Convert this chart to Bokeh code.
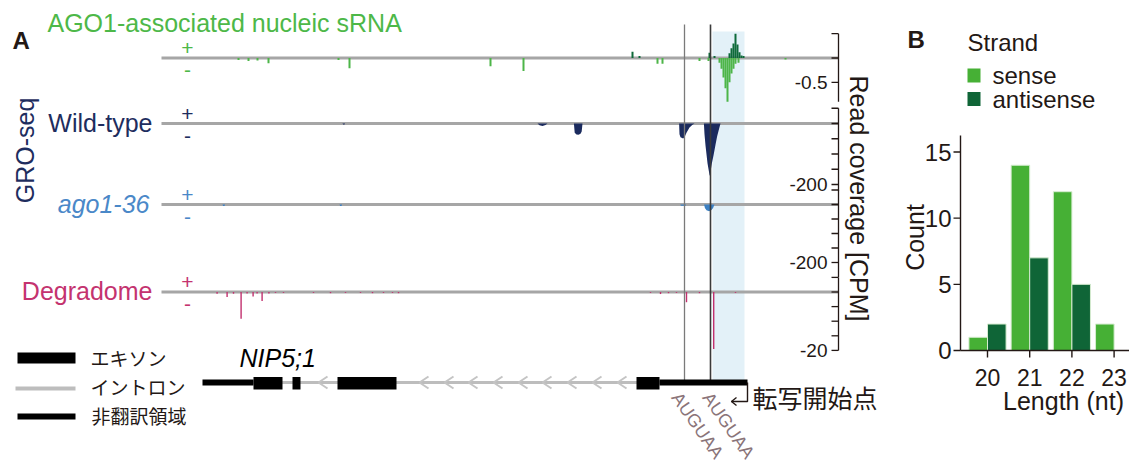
import math
from bokeh.plotting import figure
from bokeh.models import Range1d, ColumnDataSource
from bokeh.layouts import row
from bokeh.transform import dodge
from bokeh.core.properties import value
from bokeh.embed import file_html
from bokeh.resources import INLINE

FONT = "Liberation Sans"
CJK = "Noto Sans CJK JP"
INK = "#231815"

# ---------------- Panel A data (genomic positions, bp) ----------------
window = (0, 3385)
gene_span = (205, 2930)
exon_starts = [460, 655, 880, 2375]
exon_ends = [605, 695, 1175, 2490]
utr_starts = [205, 2490]
utr_ends = [460, 2930]
intron_span = (460, 2490)
intron_arrows = [785, 1290, 1415, 1535, 1660, 1785, 1905, 2030, 2155, 2280]
motif_pos = [2615, 2745]
motif_labels = ["AUGUAA", "AUGUAA"]
srna_region = (2755, 2915)

ago1_sense_pos = [385, 435, 480, 535, 885, 940, 1645, 1810, 2480, 2505, 2690, 2735,
                  2790, 2800, 2810, 2820, 2830, 2840, 2850, 2860, 2870, 2885, 3120]
ago1_sense_val = [-0.04, -0.06, -0.05, -0.11, -0.04, -0.21, -0.17, -0.27, -0.12, -0.12, -0.06, -0.06,
                  -0.10, -0.22, -0.40, -0.62, -0.90, -0.50, -0.32, -0.22, -0.12, -0.10, -0.03]
ago1_anti_pos = [2355, 2390, 2740, 2765, 2840, 2850, 2860, 2870, 2880, 2890, 2900, 2910]
ago1_anti_val = [0.13, 0.04, 0.11, 0.04, 0.10, 0.20, 0.30, 0.50, 0.28, 0.12, 0.05, 0.04]

wt_pos = [0, 905, 908, 915, 918, 1880, 1890, 1905, 1920, 1930,
          2062, 2066, 2075, 2085, 2095, 2101, 2105,
          2588, 2590, 2595, 2608, 2615, 2625, 2640, 2655, 2665,
          2712, 2715, 2720, 2730, 2741, 2746, 2752, 2760, 2770, 2778, 2786, 2795, 3385]
wt_val = [0, 0, -3, -3, 0, 0, -6, -8, -5, 0,
          0, -30, -36, -37, -34, -26, 0,
          0, -35, -45, -49, -45, -30, -13, -4, 0,
          0, -35, -72, -130, -172, -155, -130, -105, -70, -43, -22, 0, 0]

mut_pos = [0, 305, 308, 315, 318, 890, 893, 900, 903, 2594, 2597, 2620, 2623,
           2713, 2717, 2725, 2738, 2750, 2758, 2765, 3385]
mut_val = [0, 0, -5, -5, 0, 0, -5, -5, 0, 0, -4, -4, 0,
           0, -12, -20, -23, -19, -12, 0, 0]

deg_pos = [278, 328, 360, 398, 428, 458, 478, 503, 537, 570, 610, 760, 845, 920, 995, 1055,
           1110, 1155, 1185, 2445, 2495, 2535, 2575, 2625, 2690, 2761, 2870]
deg_val = [-0.6, -1.7, -0.6, -9.2, -0.5, -1.5, -0.5, -3.1, -0.5, -0.3, -0.3, -0.3, -0.4, -0.3, -0.3, -0.4,
           -0.3, -0.3, -0.4, -0.3, -0.7, -0.4, -0.3, -3.5, -0.4, -19.5, -0.3]

# right-axis ticks per track
ago1_ticks = [0.5, 0, -0.5]
wt_ticks = [50, 0, -50, -100, -150, -200]
mut_ticks = [50, 0, -50, -100, -150, -200]
deg_ticks = [5, 0, -5, -10, -15, -20]

# ---------------- Panel B data ----------------
lengths = [20, 21, 22, 23]
sense_counts = [1, 14, 12, 2]
antisense_counts = [2, 7, 5, 0]
count_ticks = [0, 5, 10, 15]
strand_names = ["sense", "antisense"]
strand_colors = ["#46b035", "#0f6537"]

# ---------------- Panel A figure ----------------
X0, X1, Y0, Y1 = 0, 880, 0, 466
PX_ORIGIN, BP_PER_PX = 161, 5

pA = figure(frame_width=X1 - X0, frame_height=Y1 - Y0,
            x_range=Range1d(X0, X1), y_range=Range1d(Y1, Y0),
            x_axis_location=None, y_axis_location=None,
            toolbar_location=None, output_backend="svg",
            min_border=0, outline_line_color=None, background_fill_color="white")
pA.grid.grid_line_color = None
pA.extra_x_ranges = {"gen": Range1d((X0 - PX_ORIGIN) * BP_PER_PX, (X1 - PX_ORIGIN) * BP_PER_PX)}

# track layout: (baseline in layout px, px per unit)
tracks = {"ago1": (57.5, 48.6), "wt": (123.0, 0.305), "mut": (204.0, 0.29), "deg": (291.5, 2.92)}
pA.extra_y_ranges = {k: Range1d((b - Y1) / s, (b - Y0) / s) for k, (b, s) in tracks.items()}

# highlighted sRNA region
pA.quad(left=[srna_region[0]], right=[srna_region[1]], top=[31], bottom=[381],
        x_range_name="gen", fill_color="#e3f1f8", line_color=None)

# baselines
for k in tracks:
    pA.segment(x0=[window[0]], x1=[window[1]], y0=[0], y1=[0], x_range_name="gen",
               y_range_name=k, line_color="#a6a6a6", line_width=3)

# AGO1 sRNA coverage
pA.vbar(x=ago1_sense_pos, top=ago1_sense_val, bottom=0, width=10, x_range_name="gen",
        y_range_name="ago1", fill_color="#4db548", line_color=None)
pA.vbar(x=ago1_anti_pos, top=ago1_anti_val, bottom=0, width=10, x_range_name="gen",
        y_range_name="ago1", fill_color="#0e6a3a", line_color=None)
# GRO-seq
pA.varea(x=wt_pos, y1=0, y2=wt_val, x_range_name="gen", y_range_name="wt", fill_color="#1b2b5e")
pA.varea(x=mut_pos, y1=0, y2=mut_val, x_range_name="gen", y_range_name="mut", fill_color="#3d80c2")
# Degradome
pA.vbar(x=deg_pos, top=deg_val, bottom=0, width=7, x_range_name="gen",
        y_range_name="deg", fill_color="#c2306e", line_color=None)

# motif lines
pA.segment(x0=motif_pos, x1=motif_pos, y0=[24, 24], y1=[382, 382], x_range_name="gen",
           line_color=["#7a7a7a", "#3a3a3a"], line_width=[1.3, 1.6])

# right axes
AX = 838
axis_specs = [("ago1", ago1_ticks, (0.5, -0.9), -0.5, "-0.5"),
              ("wt", wt_ticks, (50, -220), -200, "-200"),
              ("mut", mut_ticks, (50, -250), -200, "-200"),
              ("deg", deg_ticks, (5, -20), -20, "-20")]
for name, ticks, (top, bot), lab_v, lab_t in axis_specs:
    pA.segment(x0=[AX], x1=[AX], y0=[top], y1=[bot], y_range_name=name, line_color=INK, line_width=1.3)
    pA.segment(x0=[AX - 7] * len(ticks), x1=[AX] * len(ticks), y0=ticks, y1=ticks,
               y_range_name=name, line_color=INK, line_width=1.3)
    pA.text(x=[AX - 11], y=[lab_v], text=[lab_t], y_range_name=name, text_font=value(FONT),
            text_font_size="19px", text_color=INK, text_align="right", text_baseline="middle")

pA.text(x=[858], y=[198], text=["Read coverage [CPM]"], angle=-math.pi / 2, text_font=value(FONT),
        text_font_size="25px", text_color=INK, text_align="center", text_baseline="middle")

# gene model
pA.segment(x0=[intron_span[0]], x1=[intron_span[1]], y0=[382], y1=[382], x_range_name="gen",
           line_color="#bdbdbd", line_width=3)
pA.multi_line(xs=[[a + 45, a, a + 45] for a in intron_arrows],
              ys=[[376, 382, 388] for _ in intron_arrows], x_range_name="gen",
              line_color="#c4c4c4", line_width=2)
pA.quad(left=utr_starts, right=utr_ends, top=379, bottom=385, x_range_name="gen",
        fill_color="black", line_color=None)
pA.quad(left=exon_starts, right=exon_ends, top=376.5, bottom=389, x_range_name="gen",
        fill_color="black", line_color=None)
# TSS arrow
tss = gene_span[1]
pA.multi_line(xs=[[tss, tss, tss - 80], [tss - 55, tss - 80, tss - 55]],
              ys=[[382, 401, 401], [397, 401, 405]], x_range_name="gen",
              line_color=INK, line_width=1.4)

# gene legend
pA.quad(left=[17], right=[75], top=[352], bottom=[363], fill_color="black", line_color=None)
pA.segment(x0=[15], x1=[75], y0=[388], y1=[388], line_color="#bdbdbd", line_width=4)
pA.segment(x0=[17], x1=[75], y0=[416], y1=[416], line_color="black", line_width=6)
pA.text(x=[90, 90, 91], y=[357, 386, 415], text=["エキソン", "イントロン", "非翻訳領域"],
        text_font=value(CJK), text_font_size="19px", text_color=INK, text_baseline="middle")
pA.text(x=[752], y=[396], text=["転写開始点"], text_font=value(CJK), text_font_size="25px",
        text_color=INK, text_baseline="middle")
pA.text(x=[239], y=[357], text=["NIP5;1"], text_font=value(FONT), text_font_style="italic",
        text_font_size="25px", text_color="black", text_baseline="middle")
pA.text(x=[697, 728], y=[425, 425], text=motif_labels, angle=-0.96, text_font=value(FONT),
        text_font_size="18px", text_color="#8a7479", text_align="center", text_baseline="middle")

# track labels
pA.text(x=[12], y=[40], text=["A"], text_font=value(FONT), text_font_style="bold",
        text_font_size="24px", text_color=INK, text_baseline="middle")
pA.text(x=[47], y=[22], text=["AGO1-associated nucleic sRNA"], text_font=value(FONT),
        text_font_size="25px", text_color="#4db848", text_baseline="middle")
pA.text(x=[24], y=[150], text=["GRO-seq"], angle=math.pi / 2, text_font=value(FONT),
        text_font_size="25px", text_color="#1e2d5e", text_align="center", text_baseline="middle")
pA.text(x=[152], y=[122], text=["Wild-type"], text_font=value(FONT), text_font_size="25px",
        text_color="#1e2d5e", text_align="right", text_baseline="middle")
pA.text(x=[149], y=[203], text=["ago1-36"], text_font=value(FONT), text_font_style="italic",
        text_font_size="25px", text_color="#4a88c8", text_align="right", text_baseline="middle")
pA.text(x=[152], y=[290], text=["Degradome"], text_font=value(FONT), text_font_size="25px",
        text_color="#c4336f", text_align="right", text_baseline="middle")
sign_cols = {"ago1": "#4db848", "wt": "#1e2d5e", "mut": "#4a88c8", "deg": "#c4336f"}
for k, (b, s) in tracks.items():
    pA.text(x=[187, 187], y=[b - 10, b + 12], text=["+", "-"], text_font=value(FONT),
            text_font_size="21px", text_color=sign_cols[k], text_align="center", text_baseline="middle")

# ---------------- Panel B figure ----------------
BX0, BX1 = 880, 1129
AXL, AXB, AXT = 960, 350, 135          # axis positions in layout px
X20, PX_PER_NT = 987, 42.2
PX_PER_COUNT = 13.233

pB = figure(frame_width=BX1 - BX0, frame_height=Y1 - Y0,
            x_range=Range1d(BX0, BX1), y_range=Range1d(Y1, Y0),
            x_axis_location=None, y_axis_location=None,
            toolbar_location=None, output_backend="svg",
            min_border=0, outline_line_color=None, background_fill_color="white")
pB.grid.grid_line_color = None
pB.extra_x_ranges = {"len": Range1d(20 + (BX0 - X20) / PX_PER_NT, 20 + (BX1 - X20) / PX_PER_NT)}
pB.extra_y_ranges = {"cnt": Range1d((AXB - Y1) / PX_PER_COUNT, (AXB - Y0) / PX_PER_COUNT)}
ymax = (AXB - AXT) / PX_PER_COUNT

srcB = ColumnDataSource(dict(length=lengths, sense=sense_counts, antisense=antisense_counts))
pB.vbar(x=dodge("length", -0.22), top="sense", width=0.44, source=srcB,
        x_range_name="len", y_range_name="cnt",
        fill_color=strand_colors[0], line_color="#d6ecd0", line_width=1)
pB.vbar(x=dodge("length", 0.22), top="antisense", width=0.44, source=srcB,
        x_range_name="len", y_range_name="cnt",
        fill_color=strand_colors[1], line_color="#d6ecd0", line_width=1)

# axes
pB.segment(x0=[AXL], x1=[AXL], y0=[0], y1=[ymax], y_range_name="cnt", line_color=INK, line_width=1.4)
pB.segment(x0=[AXL] * len(count_ticks), x1=[AXL - 7] * len(count_ticks), y0=count_ticks, y1=count_ticks,
           y_range_name="cnt", line_color=INK, line_width=1.4)
pB.text(x=[AXL - 9] * len(count_ticks), y=count_ticks, text=[str(t) for t in count_ticks],
        y_range_name="cnt", text_font=value(FONT), text_font_size="24px", text_color=INK,
        text_align="right", text_baseline="middle")
pB.segment(x0=[AXL], x1=[BX1], y0=[AXB], y1=[AXB], line_color=INK, line_width=1.4)
pB.segment(x0=lengths, x1=lengths, y0=[AXB] * 4, y1=[AXB + 7] * 4, x_range_name="len",
           line_color=INK, line_width=1.4)
pB.text(x=lengths, y=[377] * 4, text=[str(v) for v in lengths], x_range_name="len",
        text_font=value(FONT), text_font_size="23px", text_color=INK,
        text_align="center", text_baseline="middle")
pB.text(x=[1063], y=[400], text=["Length (nt)"], text_font=value(FONT), text_font_size="25px",
        text_color=INK, text_align="center", text_baseline="middle")
pB.text(x=[914], y=[237], text=["Count"], angle=math.pi / 2, text_font=value(FONT),
        text_font_size="25px", text_color=INK, text_align="center", text_baseline="middle")
pB.text(x=[907], y=[38.5], text=["B"], text_font=value(FONT), text_font_style="bold",
        text_font_size="24px", text_color=INK, text_baseline="middle")

# legend (Strand)
pB.text(x=[967], y=[42], text=["Strand"], text_font=value(FONT), text_font_size="24px",
        text_color=INK, text_baseline="middle")
pB.rect(x=[973.5, 973.5], y=[75, 98.5], width=13, height=14, fill_color=strand_colors, line_color=None)
pB.text(x=[992, 992], y=[75, 98.5], text=strand_names, text_font=value(FONT), text_font_size="24px",
        text_color=INK, text_baseline="middle")

layout = row(pA, pB)
open("out.html", "w").write(file_html(layout, INLINE))
